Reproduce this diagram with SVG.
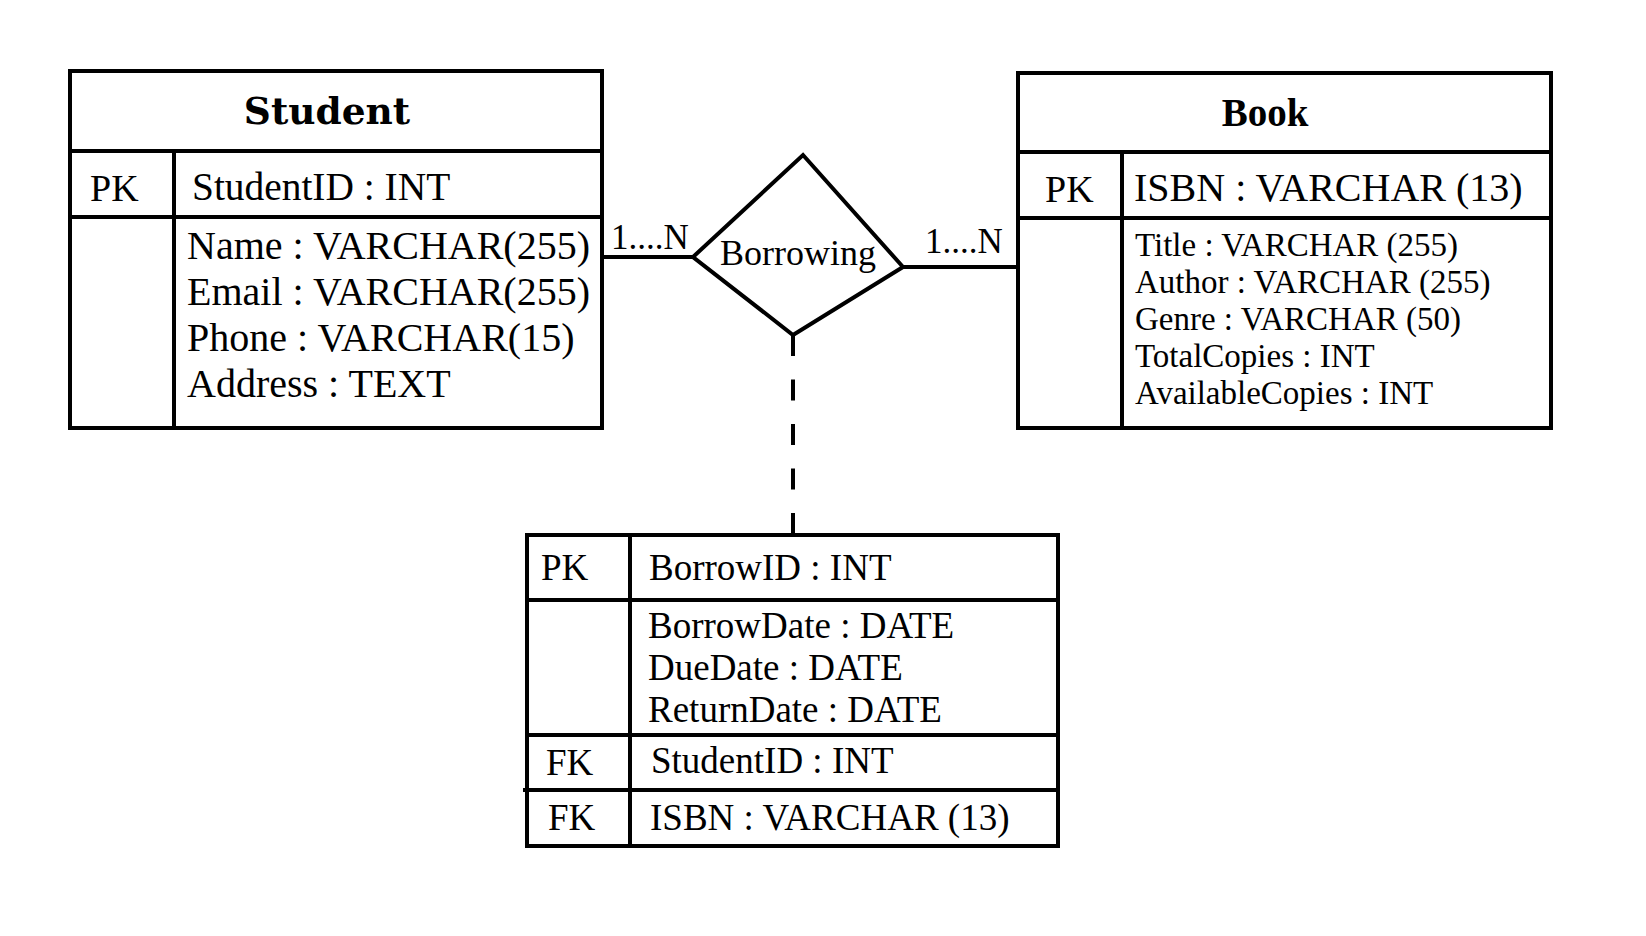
<svg xmlns="http://www.w3.org/2000/svg" width="1646" height="936" viewBox="0 0 1646 936">
<style>
.box{fill:#fff;stroke:#000;stroke-width:4}
.ln{stroke:#000;stroke-width:4;fill:none}
.t{font-family:"Liberation Serif","Times New Roman",serif;fill:#000}
.f40{font-size:40px}
.f39{font-size:39.4px}
.f37{font-size:37px}
.f36{font-size:36px}
.f35{font-size:35px}
.f33{font-size:33px}
.f38{font-size:38px}
.hdr{font-family:"DejaVu Serif",serif;font-weight:bold;font-size:37.5px;fill:#000;text-anchor:middle}
.hdr2{font-family:"Liberation Serif","Times New Roman",serif;font-weight:bold;font-size:39px;fill:#000;text-anchor:middle}
</style>
<rect width="1646" height="936" fill="#fff"/>
<g id="connectors">
<line class="ln" x1="602" y1="257" x2="693" y2="257"/>
<line class="ln" x1="903" y1="267" x2="1018" y2="267"/>
<line class="ln" x1="793" y1="335" x2="793" y2="535" stroke-dasharray="21 23.5" stroke-width="4.5"/>
<text class="t f35" x="611" y="249">1....N</text>
<text class="t f35" x="925" y="253">1....N</text>
</g>
<g id="student">
<rect class="box" x="70" y="71" width="532" height="357"/>
<line class="ln" x1="70" y1="151" x2="602" y2="151"/>
<line class="ln" x1="70" y1="217" x2="602" y2="217"/>
<line class="ln" x1="174" y1="151" x2="174" y2="428"/>
<text class="hdr" x="327" y="124">Student</text>
<text class="t f38" x="90" y="201">PK</text>
<text class="t f39" x="192" y="200">StudentID : INT</text>
<text class="t f40" x="187" y="259">Name : VARCHAR(255)</text>
<text class="t f40" x="187" y="305">Email : VARCHAR(255)</text>
<text class="t f40" x="187" y="351">Phone : VARCHAR(15)</text>
<text class="t f40" x="187" y="397">Address : TEXT</text>
</g>
<g id="borrowing">
<polygon class="box" points="803,155 903,267 793,335 693,257"/>
<text class="t f36" x="720" y="265">Borrowing</text>
</g>
<g id="book">
<rect class="box" x="1018" y="73" width="533" height="355"/>
<line class="ln" x1="1018" y1="152" x2="1551" y2="152"/>
<line class="ln" x1="1018" y1="218" x2="1551" y2="218"/>
<line class="ln" x1="1122" y1="152" x2="1122" y2="428"/>
<text class="hdr2" x="1265" y="126">Book</text>
<text class="t f38" x="1045" y="202">PK</text>
<text class="t f40" x="1134" y="201">ISBN : VARCHAR (13)</text>
<text class="t f33" x="1135" y="256">Title : VARCHAR (255)</text>
<text class="t f33" x="1135" y="293">Author : VARCHAR (255)</text>
<text class="t f33" x="1135" y="330">Genre : VARCHAR (50)</text>
<text class="t f33" x="1135" y="367">TotalCopies : INT</text>
<text class="t f33" x="1135" y="404">AvailableCopies : INT</text>
</g>
<g id="borrow-table">
<rect class="box" x="527" y="535" width="531" height="311"/>
<line class="ln" x1="527" y1="600" x2="1058" y2="600"/>
<line class="ln" x1="527" y1="735" x2="1058" y2="735"/>
<line class="ln" x1="523" y1="790" x2="1058" y2="790"/>
<line class="ln" x1="630" y1="535" x2="630" y2="846"/>
<text class="t f37" x="541" y="580">PK</text>
<text class="t f37" x="649" y="580">BorrowID : INT</text>
<text class="t f37" x="648" y="638">BorrowDate : DATE</text>
<text class="t f37" x="648" y="680">DueDate : DATE</text>
<text class="t f37" x="648" y="722">ReturnDate : DATE</text>
<text class="t f37" x="546" y="775">FK</text>
<text class="t f37" x="651" y="773">StudentID : INT</text>
<text class="t f37" x="548" y="830">FK</text>
<text class="t f37" x="650" y="830">ISBN : VARCHAR (13)</text>
</g>
</svg>
